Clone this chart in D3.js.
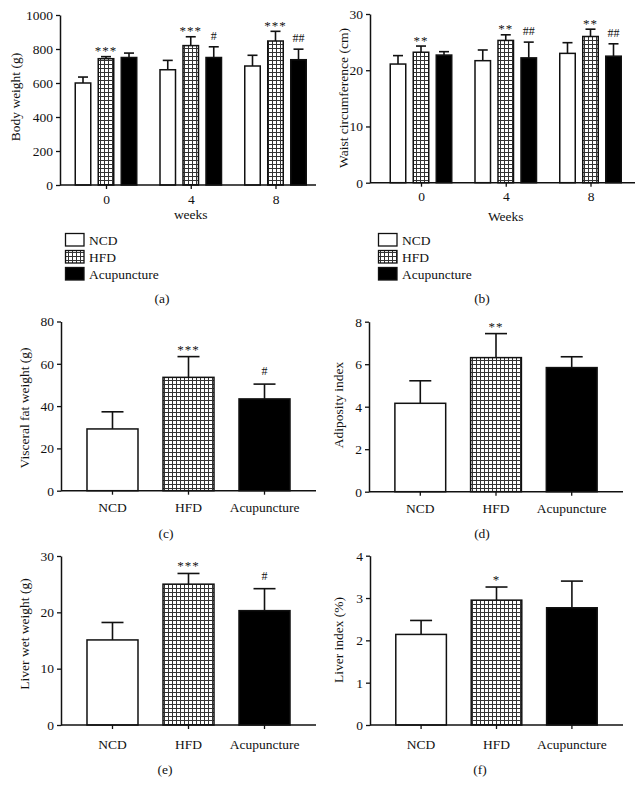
<!DOCTYPE html>
<html>
<head>
<meta charset="utf-8">
<script src="https://cdn.jsdelivr.net/npm/d3@7"></script>
<style>
  html, body { margin: 0; padding: 0; background: #fff; }
  svg { display: block; }
  text { font-family: "Liberation Serif", "DejaVu Serif", serif; fill: #111; }
</style>
</head>
<body>
<svg id="chart" width="642" height="795"></svg>
<script>
// ---------- DATA ----------
const weeks = ["0", "4", "8"];
const groups = ["NCD", "HFD", "Acupuncture"];

// (a) Body weight (g) by week
const bodyNCD = [600, 678, 700];
const bodyNCDErr = [35, 55, 63];
const bodyHFD = [743, 820, 847];
const bodyHFDErr = [12, 52, 57];
const bodyAcu = [750, 750, 737];
const bodyAcuErr = [26, 63, 62];
const bodySigHFD = ["***", "***", "***"];
const bodySigAcu = ["", "#", "##"];
const bodyTicks = [0, 200, 400, 600, 800, 1000];

// (b) Waist circumference (cm) by week
const waistNCD = [21.1, 21.7, 23.0];
const waistNCDErr = [1.5, 1.9, 1.9];
const waistHFD = [23.2, 25.3, 26.0];
const waistHFDErr = [1.1, 1.0, 1.3];
const waistAcu = [22.7, 22.2, 22.5];
const waistAcuErr = [0.6, 2.8, 2.2];
const waistSigHFD = ["**", "**", "**"];
const waistSigAcu = ["", "##", "##"];
const waistTicks = [0, 10, 20, 30];

// (c) Visceral fat weight (g)
const visceral = [29.2, 53.6, 43.4];
const visceralErr = [8.1, 9.8, 7.0];
const visceralSig = ["", "***", "#"];
const visceralTicks = [0, 20, 40, 60, 80];

// (d) Adiposity index
const adiposity = [4.16, 6.31, 5.84];
const adiposityErr = [1.06, 1.13, 0.51];
const adipositySig = ["", "**", ""];
const adiposityTicks = [0, 2, 4, 6, 8];

// (e) Liver wet weight (g)
const liverWet = [15.1, 25.0, 20.3];
const liverWetErr = [3.1, 1.9, 3.9];
const liverWetSig = ["", "***", "#"];
const liverWetTicks = [0, 10, 20, 30];

// (f) Liver index (%)
const liverIdx = [2.14, 2.95, 2.77];
const liverIdxErr = [0.33, 0.31, 0.63];
const liverIdxSig = ["", "*", ""];
const liverIdxTicks = [0, 1, 2, 3, 4];

// ---------- DRAWING ----------
const svg = d3.select("#chart");
const defs = svg.append("defs");
const pat = defs.append("pattern").attr("id", "grid")
  .attr("width", 4).attr("height", 4).attr("patternUnits", "userSpaceOnUse");
pat.append("rect").attr("width", 4).attr("height", 4).attr("fill", "#fff");
pat.append("path").attr("d", "M0 0.5H4M0.5 0V4").attr("stroke", "#333").attr("stroke-width", 1);

const fills = { "NCD": "#fff", "HFD": "url(#grid)", "Acupuncture": "#000" };
const FS = 13.5;

function styleAxis(g) {
  g.selectAll("path.domain").attr("stroke", "#111").attr("stroke-width", 1.5);
  g.selectAll(".tick line").attr("stroke", "#111").attr("stroke-width", 1.3);
  g.selectAll(".tick text").attr("font-size", FS).attr("font-family", "Liberation Serif").attr("fill", "#111");
}

function yAxis(x0, y, ticks) {
  const g = svg.append("g").attr("transform", `translate(${x0},0)`)
    .call(d3.axisLeft(y).tickValues(ticks).tickFormat(d3.format("d"))
      .tickSize(4).tickSizeOuter(0).tickPadding(3));
  styleAxis(g);
  return g;
}

function xAxis(scale, y0, x0, x1, pad) {
  const g = svg.append("g").attr("transform", `translate(0,${y0})`)
    .call(d3.axisBottom(scale).tickSize(4).tickSizeOuter(0).tickPadding(pad));
  g.select("path.domain").remove();
  styleAxis(g);
  svg.append("line").attr("x1", x0).attr("x2", x1).attr("y1", y0).attr("y2", y0)
    .attr("stroke", "#111").attr("stroke-width", 1.5);
}

function yTitle(text, x, yc) {
  svg.append("text").attr("transform", `translate(${x},${yc}) rotate(-90)`)
    .attr("text-anchor", "middle").attr("font-size", FS).text(text);
}

function bar(xl, w, y, v, e, fill, capHalf, sig, sigOff) {
  const xc = xl + w / 2;
  svg.append("line").attr("x1", xc).attr("x2", xc).attr("y1", y(v)).attr("y2", y(v + e))
    .attr("stroke", "#111").attr("stroke-width", 1.6);
  svg.append("line").attr("x1", xc - capHalf).attr("x2", xc + capHalf).attr("y1", y(v + e)).attr("y2", y(v + e))
    .attr("stroke", "#111").attr("stroke-width", 1.6);
  svg.append("rect").attr("x", xl).attr("y", y(v)).attr("width", w).attr("height", y(0) - y(v))
    .attr("fill", fill).attr("stroke", "#111").attr("stroke-width", 1.5);
  if (sig) {
    const isHash = sig.indexOf("#") >= 0;
    svg.append("text").attr("x", xc).attr("y", y(v + e) - (isHash ? sigOff[1] : sigOff[0]))
      .attr("text-anchor", "middle").attr("font-size", isHash ? 12 : 13).attr("fill", "#222")
      .attr("letter-spacing", isHash ? 0 : 1).text(sig);
  }
}

function legend(x0, y0) {
  groups.forEach((g, i) => {
    const yy = y0 + i * 17;
    svg.append("rect").attr("x", x0).attr("y", yy).attr("width", 18.5).attr("height", 12.5)
      .attr("fill", fills[g]).attr("stroke", "#111").attr("stroke-width", 1.3);
    svg.append("text").attr("x", x0 + 23.5).attr("y", yy + 11.5).attr("font-size", FS).text(g);
  });
}

function caption(text, x, y) {
  svg.append("text").attr("x", x).attr("y", y).attr("text-anchor", "middle").attr("font-size", FS).text(text);
}

function groupedPanel(o) {
  const y = d3.scaleLinear().domain([0, o.ticks[o.ticks.length - 1]]).range(o.yRange);
  const xg = d3.scalePoint().domain(weeks).range(o.xgRange);
  const xs = d3.scaleBand().domain(groups).range([-30.75, 30.75]).paddingInner(0.326);
  const series = [
    { g: "NCD", v: o.ncd, e: o.ncdErr, s: ["", "", ""] },
    { g: "HFD", v: o.hfd, e: o.hfdErr, s: o.sigHFD },
    { g: "Acupuncture", v: o.acu, e: o.acuErr, s: o.sigAcu }
  ];
  series.forEach(sr => {
    weeks.forEach((w, i) => {
      bar(xg(w) + xs(sr.g), xs.bandwidth(), y, sr.v[i], sr.e[i], fills[sr.g], 5, sr.s[i], [1.5, 7]);
    });
  });
  yAxis(o.axisX, y, o.ticks);
  xAxis(xg, o.yRange[0], o.axisX, o.axisX1, 5);
  yTitle(o.title, o.titleX, o.titleY);
  svg.append("text").attr("x", (o.xgRange[0] + o.xgRange[1]) / 2).attr("y", o.xTitleY)
    .attr("text-anchor", "middle").attr("font-size", FS).text(o.xTitle);
}

function simplePanel(o) {
  const y = d3.scaleLinear().domain([0, o.ticks[o.ticks.length - 1]]).range(o.yRange);
  const x = d3.scaleBand().domain(groups).range([o.axisX, o.axisX1]).paddingInner(0.329).paddingOuter(0.342);
  groups.forEach((g, i) => {
    bar(x(g), x.bandwidth(), y, o.v[i], o.e[i], fills[g], 11, o.sig[i], [3, 9]);
  });
  yAxis(o.axisX, y, o.ticks);
  xAxis(x, o.yRange[0], o.axisX, o.axisX1, o.xPad);
  yTitle(o.title, o.titleX, o.titleY);
}

// (a)
groupedPanel({
  ncd: bodyNCD, ncdErr: bodyNCDErr, hfd: bodyHFD, hfdErr: bodyHFDErr, acu: bodyAcu, acuErr: bodyAcuErr,
  sigHFD: bodySigHFD, sigAcu: bodySigAcu, ticks: bodyTicks,
  yRange: [185, 15], xgRange: [106, 275.5], axisX: 60, axisX1: 316,
  title: "Body weight (g)", titleX: 19.5, titleY: 97, xTitle: "weeks", xTitleY: 218.5
});
// (b)
groupedPanel({
  ncd: waistNCD, ncdErr: waistNCDErr, hfd: waistHFD, hfdErr: waistHFDErr, acu: waistAcu, acuErr: waistAcuErr,
  sigHFD: waistSigHFD, sigAcu: waistSigAcu, ticks: waistTicks,
  yRange: [182.7, 14], xgRange: [421, 590.5], axisX: 370, axisX1: 635,
  title: "Waist circumference (cm)", titleX: 348, titleY: 98, xTitle: "Weeks", xTitleY: 221
});
legend(65.5, 233.5);
legend(378.5, 233.5);
caption("(a)", 162, 303);
caption("(b)", 482, 303);

// (c)
simplePanel({ v: visceral, e: visceralErr, sig: visceralSig, ticks: visceralTicks,
  yRange: [490.7, 321.5], axisX: 61, axisX1: 316, xPad: 8,
  title: "Visceral fat weight (g)", titleX: 29, titleY: 408 });
// (d)
simplePanel({ v: adiposity, e: adiposityErr, sig: adipositySig, ticks: adiposityTicks,
  yRange: [491.7, 321.7], axisX: 369, axisX1: 623, xPad: 8,
  title: "Adiposity index", titleX: 343, titleY: 405 });
caption("(c)", 166, 538);
caption("(d)", 482, 538);

// (e)
simplePanel({ v: liverWet, e: liverWetErr, sig: liverWetSig, ticks: liverWetTicks,
  yRange: [725, 556], axisX: 61, axisX1: 316, xPad: 10,
  title: "Liver wet weight (g)", titleX: 29, titleY: 634 });
// (f)
simplePanel({ v: liverIdx, e: liverIdxErr, sig: liverIdxSig, ticks: liverIdxTicks,
  yRange: [725, 555.7], axisX: 370, axisX1: 623, xPad: 10,
  title: "Liver index (%)", titleX: 343, titleY: 640 });
caption("(e)", 165, 774);
caption("(f)", 480, 774);
</script>
</body>
</html>
